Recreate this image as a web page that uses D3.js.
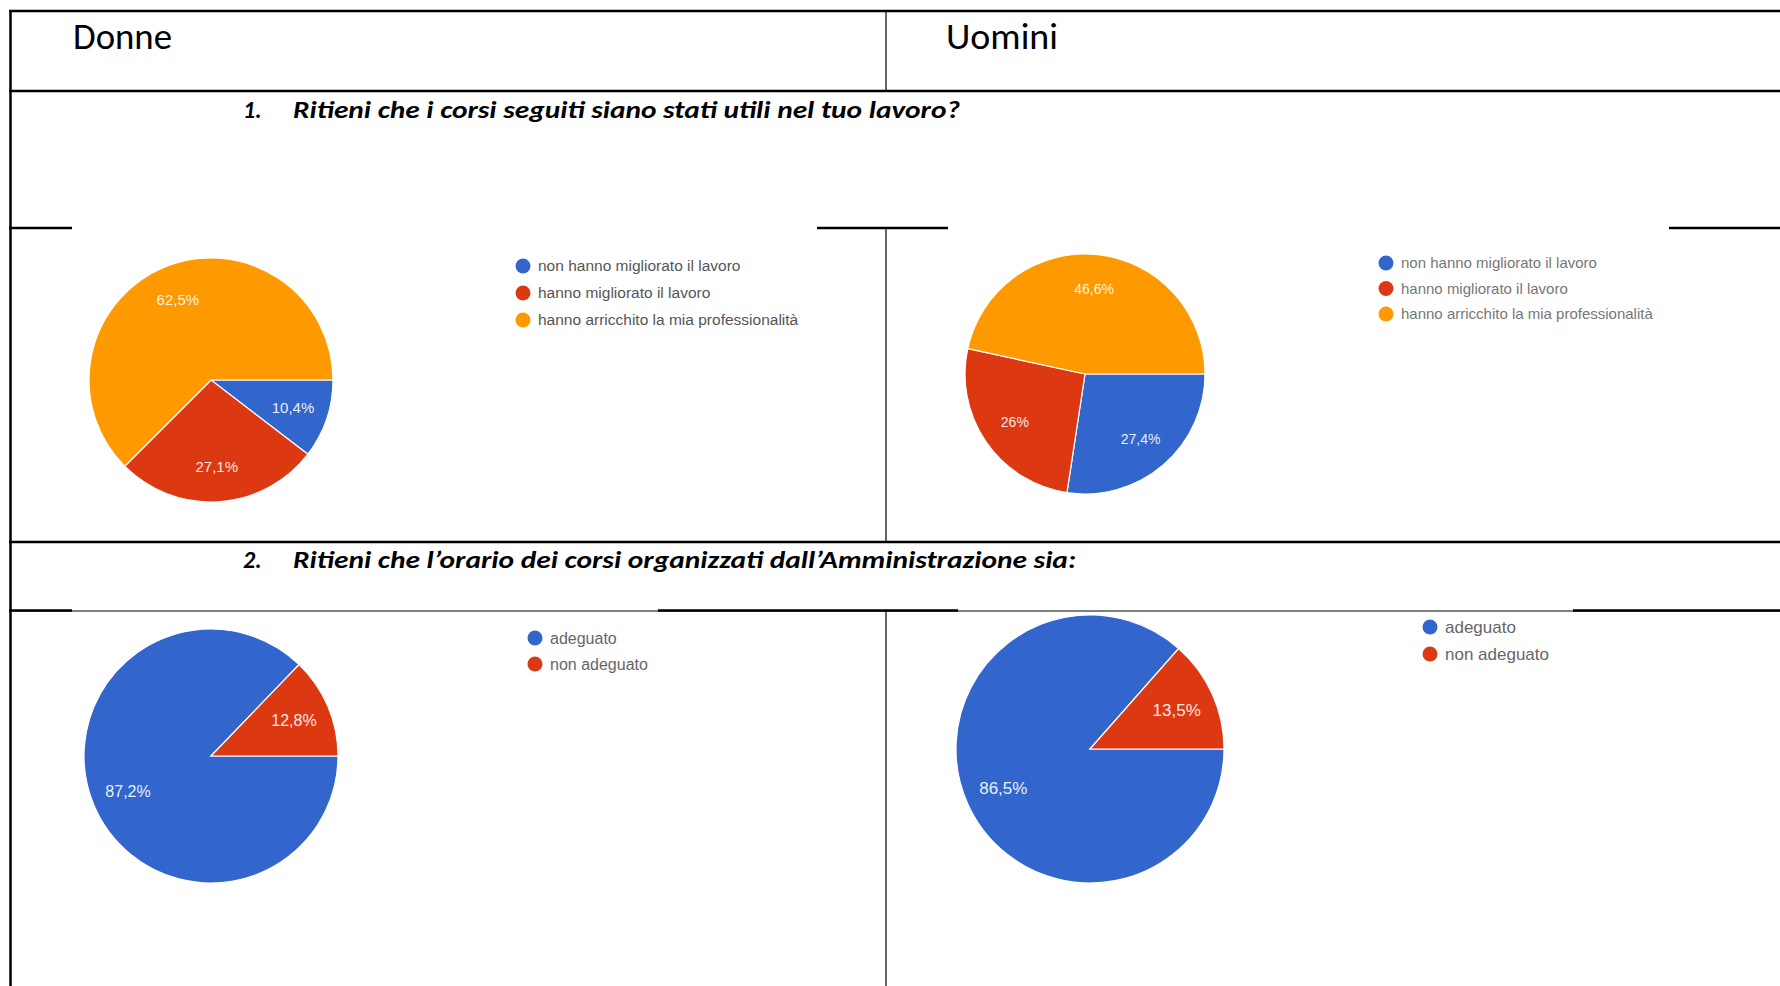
<!DOCTYPE html>
<html>
<head>
<meta charset="utf-8">
<script src="https://cdn.jsdelivr.net/npm/d3@7"></script>
<style>
  html, body { margin: 0; padding: 0; background: #fff; }
  svg { display: block; }
</style>
</head>
<body>
<svg id="chart" width="1780" height="986"></svg>
<script>
// ---------- DATA ----------
const columnHeaders = ["Donne", "Uomini"];
const questionNumbers = ["1.", "2."];
const questions = [
  "Ritieni che i corsi seguiti siano stati utili nel tuo lavoro?",
  "Ritieni che l\u2019orario dei corsi organizzati dall\u2019Amministrazione sia:"
];
const q1Categories = ["non hanno migliorato il lavoro", "hanno migliorato il lavoro", "hanno arricchito la mia professionalit\u00e0"];
const q1Donne = [10.4, 27.1, 62.5];
const q1Uomini = [27.4, 26, 46.6];
const q2Categories = ["adeguato", "non adeguato"];
const q2Donne = [87.2, 12.8];
const q2Uomini = [86.5, 13.5];
const sliceColors = ["#3366cc", "#dc3912", "#ff9900"];

// ---------- LAYOUT ----------
const svg = d3.select("#chart");
const W = 1780, H = 986;
svg.append("rect").attr("width", W).attr("height", H).attr("fill", "#fff");

const headFont = "Carlito, Calibri, Lato, 'Open Sans', sans-serif";
const chartFont = "Arial, 'Liberation Sans', Roboto, sans-serif";

const panels = [
  { cats: q1Categories, vals: q1Donne,  cx: 211,  cy: 380, r: 122, lx: 523,  ly: 266, lgap: 27,   lfs: 15.5, pfs: 15, lcol: "#555" },
  { cats: q1Categories, vals: q1Uomini, cx: 1085, cy: 374, r: 120, lx: 1386, ly: 263, lgap: 25.5, lfs: 15,   pfs: 14, lcol: "#777" },
  { cats: q2Categories, vals: q2Donne,  cx: 211,  cy: 756, r: 127, lx: 535,  ly: 638, lgap: 26,   lfs: 16,   pfs: 16, lcol: "#666" },
  { cats: q2Categories, vals: q2Uomini, cx: 1090, cy: 749, r: 134, lx: 1430, ly: 627, lgap: 27,   lfs: 17,   pfs: 17, lcol: "#666" }
];

const fmt = v => (Number.isInteger(v) ? String(v) : v.toFixed(1).replace(".", ",")) + "%";

const pie = d3.pie().sort(null).value(d => d)
  .startAngle(Math.PI / 2).endAngle(Math.PI / 2 + 2 * Math.PI);

panels.forEach(p => {
  const g = svg.append("g").attr("transform", `translate(${p.cx},${p.cy})`);
  const arc = d3.arc().innerRadius(0).outerRadius(p.r);
  const labelArc = d3.arc().innerRadius(p.r * 0.71).outerRadius(p.r * 0.71);
  const arcs = pie(p.vals);
  g.selectAll("path").data(arcs).join("path")
    .attr("d", arc)
    .attr("fill", (d, i) => sliceColors[i])
    .attr("stroke", "#fff")
    .attr("stroke-width", 1.2);
  g.selectAll("text").data(arcs).join("text")
    .attr("transform", d => `translate(${labelArc.centroid(d)})`)
    .attr("text-anchor", "middle")
    .attr("dy", "0.35em")
    .attr("fill", "#fff")
    .attr("fill-opacity", 0.92)
    .attr("font-family", chartFont)
    .attr("font-size", p.pfs)
    .text(d => fmt(d.data));

  const lg = svg.append("g");
  const items = lg.selectAll("g").data(p.cats).join("g")
    .attr("transform", (d, i) => `translate(${p.lx},${p.ly + i * p.lgap})`);
  items.append("circle").attr("r", 7.5).attr("fill", (d, i) => sliceColors[i]);
  items.append("text")
    .attr("x", 15).attr("dy", "0.35em")
    .attr("font-family", chartFont)
    .attr("font-size", p.lfs)
    .attr("fill", p.lcol)
    .text(d => d);
});

// ---------- TABLE LINES ----------
const lines = svg.append("g").attr("stroke", "#000");
const hl = (x1, x2, y, w) => lines.append("line").attr("x1", x1).attr("x2", x2).attr("y1", y).attr("y2", y).attr("stroke-width", w);
const vl = (x, y1, y2, w) => lines.append("line").attr("x1", x).attr("x2", x).attr("y1", y1).attr("y2", y2).attr("stroke-width", w);

hl(9, W, 11, 2.5);
hl(9, W, 91, 2.5);
hl(9, 72, 228, 2.5); hl(817, 948, 228, 2.5); hl(1669, W, 228, 2.5);
hl(9, W, 542, 2.5);
hl(9, W, 611, 1);
hl(9, 72, 610.5, 2.5); hl(658, 958, 610.5, 2.5); hl(1573, W, 610.5, 2.5);
vl(10.5, 10, H, 2.5);
vl(886, 11, 91, 1.2);
vl(886, 228, 542, 1.2);
vl(886, 611, H, 1.2);

// ---------- TEXT ----------
svg.append("text").attr("x", 73).attr("y", 49)
  .attr("font-family", headFont).attr("font-size", 37)
  .attr("textLength", 99).attr("lengthAdjust", "spacingAndGlyphs")
  .text(columnHeaders[0]);
svg.append("text").attr("x", 946).attr("y", 49)
  .attr("font-family", headFont).attr("font-size", 37)
  .attr("textLength", 112).attr("lengthAdjust", "spacingAndGlyphs")
  .text(columnHeaders[1]);

const qY = [118, 568];
const qLen = [667, 783];
questions.forEach((q, i) => {
  svg.append("text").attr("x", 243).attr("y", qY[i])
    .attr("font-family", headFont).attr("font-size", 24)
    .attr("font-weight", "bold").attr("font-style", "italic")
    .text(questionNumbers[i]);
  svg.append("text").attr("x", 293).attr("y", qY[i])
    .attr("font-family", headFont).attr("font-size", 24)
    .attr("font-weight", "bold").attr("font-style", "italic")
    .attr("textLength", qLen[i]).attr("lengthAdjust", "spacingAndGlyphs")
    .text(q);
});
</script>
</body>
</html>
